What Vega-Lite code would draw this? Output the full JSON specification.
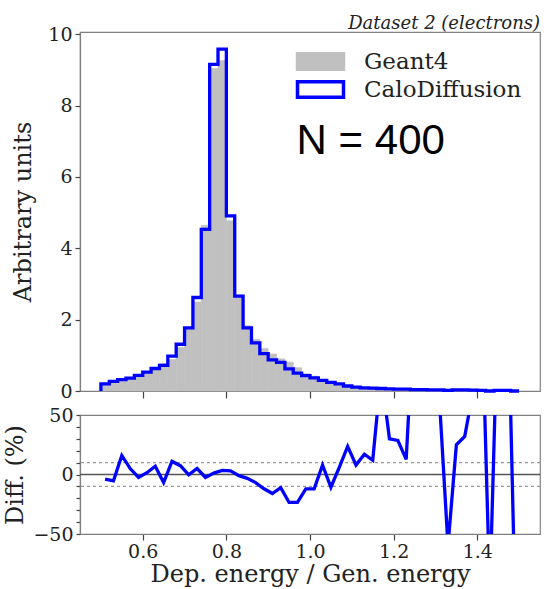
{
  "$schema": "https://vega.github.io/schema/vega-lite/v6.json",
  "background": "white",
  "padding": {"left": 3, "top": 14, "right": 0, "bottom": 0},
  "config": {
    "font": "DejaVu Serif",
    "view": {"stroke": "#808080", "strokeWidth": 1.2},
    "axis": {
      "domainColor": "#808080", "domainWidth": 1.2, "tickColor": "#444", "tickWidth": 1.2,
      "labelColor": "#222", "titleColor": "#222", "labelFont": "DejaVu Serif", "titleFont": "DejaVu Serif",
      "labelFontSize": 19, "titleFontSize": 24, "titleFontWeight": "normal", "grid": false, "tickSize": 5,
      "labelOverlap": false, "labelFlush": false, "labelPadding": 3
    }
  },
  "datasets": {
    "hist": [
      {"lo": 0.50, "hi": 0.52, "c": 0.51, "calo": 0.20, "geant": 0.208, "diff": -3.8},
      {"lo": 0.52, "hi": 0.54, "c": 0.53, "calo": 0.27, "geant": 0.285, "diff": -5.3},
      {"lo": 0.54, "hi": 0.56, "c": 0.55, "calo": 0.32, "geant": 0.276, "diff": 16},
      {"lo": 0.56, "hi": 0.58, "c": 0.57, "calo": 0.36, "geant": 0.343, "diff": 5},
      {"lo": 0.58, "hi": 0.60, "c": 0.59, "calo": 0.44, "geant": 0.451, "diff": -2.4},
      {"lo": 0.60, "hi": 0.62, "c": 0.61, "calo": 0.53, "geant": 0.522, "diff": 1.5},
      {"lo": 0.62, "hi": 0.64, "c": 0.63, "calo": 0.63, "geant": 0.589, "diff": 7},
      {"lo": 0.64, "hi": 0.66, "c": 0.65, "calo": 0.72, "geant": 0.773, "diff": -6.8},
      {"lo": 0.66, "hi": 0.68, "c": 0.67, "calo": 0.98, "geant": 0.883, "diff": 11},
      {"lo": 0.68, "hi": 0.70, "c": 0.69, "calo": 1.31, "geant": 1.22, "diff": 7.4},
      {"lo": 0.70, "hi": 0.72, "c": 0.71, "calo": 1.77, "geant": 1.775, "diff": -0.3},
      {"lo": 0.72, "hi": 0.74, "c": 0.73, "calo": 2.62, "geant": 2.495, "diff": 5},
      {"lo": 0.74, "hi": 0.76, "c": 0.75, "calo": 4.53, "geant": 4.64, "diff": -2.4},
      {"lo": 0.76, "hi": 0.78, "c": 0.77, "calo": 9.15, "geant": 9.04, "diff": 1.2},
      {"lo": 0.78, "hi": 0.80, "c": 0.79, "calo": 9.58, "geant": 9.26, "diff": 3.5},
      {"lo": 0.80, "hi": 0.82, "c": 0.81, "calo": 4.91, "geant": 4.77, "diff": 3},
      {"lo": 0.82, "hi": 0.84, "c": 0.83, "calo": 2.66, "geant": 2.687, "diff": -1},
      {"lo": 0.84, "hi": 0.86, "c": 0.85, "calo": 1.77, "geant": 1.829, "diff": -3.2},
      {"lo": 0.86, "hi": 0.88, "c": 0.87, "calo": 1.35, "geant": 1.449, "diff": -6.8},
      {"lo": 0.88, "hi": 0.90, "c": 0.89, "calo": 1.05, "geant": 1.193, "diff": -12},
      {"lo": 0.90, "hi": 0.92, "c": 0.91, "calo": 0.87, "geant": 1.036, "diff": -16},
      {"lo": 0.92, "hi": 0.94, "c": 0.93, "calo": 0.80, "geant": 0.899, "diff": -11},
      {"lo": 0.94, "hi": 0.96, "c": 0.95, "calo": 0.62, "geant": 0.810, "diff": -23.5},
      {"lo": 0.96, "hi": 0.98, "c": 0.97, "calo": 0.50, "geant": 0.654, "diff": -23.5},
      {"lo": 0.98, "hi": 1.00, "c": 0.99, "calo": 0.43, "geant": 0.489, "diff": -12},
      {"lo": 1.00, "hi": 1.02, "c": 1.01, "calo": 0.37, "geant": 0.420, "diff": -12},
      {"lo": 1.02, "hi": 1.04, "c": 1.03, "calo": 0.30, "geant": 0.278, "diff": 8},
      {"lo": 1.04, "hi": 1.06, "c": 1.05, "calo": 0.24, "geant": 0.269, "diff": -10.7},
      {"lo": 1.06, "hi": 1.08, "c": 1.07, "calo": 0.20, "geant": 0.189, "diff": 6},
      {"lo": 1.08, "hi": 1.10, "c": 1.09, "calo": 0.14, "geant": 0.113, "diff": 23.6},
      {"lo": 1.10, "hi": 1.12, "c": 1.11, "calo": 0.11, "geant": 0.102, "diff": 8},
      {"lo": 1.12, "hi": 1.14, "c": 1.13, "calo": 0.09, "geant": 0.077, "diff": 17},
      {"lo": 1.14, "hi": 1.16, "c": 1.15, "calo": 0.08, "geant": 0.071, "diff": 12},
      {"lo": 1.16, "hi": 1.18, "c": 1.17, "calo": 0.07, "geant": 0.038, "diff": 85},
      {"lo": 1.18, "hi": 1.20, "c": 1.19, "calo": 0.06, "geant": 0.046, "diff": 30},
      {"lo": 1.20, "hi": 1.22, "c": 1.21, "calo": 0.05, "geant": 0.039, "diff": 28.7},
      {"lo": 1.22, "hi": 1.24, "c": 1.23, "calo": 0.05, "geant": 0.044, "diff": 12.7},
      {"lo": 1.24, "hi": 1.26, "c": 1.25, "calo": 0.04, "geant": 0.016, "diff": 145},
      {"lo": 1.26, "hi": 1.28, "c": 1.27, "calo": 0.04, "geant": 0.013, "diff": 200},
      {"lo": 1.28, "hi": 1.30, "c": 1.29, "calo": 0.03, "geant": 0.010, "diff": 200},
      {"lo": 1.30, "hi": 1.32, "c": 1.31, "calo": 0.03, "geant": 0.019, "diff": 60},
      {"lo": 1.32, "hi": 1.34, "c": 1.33, "calo": 0.02, "geant": 0.05, "diff": -60},
      {"lo": 1.34, "hi": 1.36, "c": 1.35, "calo": 0.03, "geant": 0.024, "diff": 25},
      {"lo": 1.36, "hi": 1.38, "c": 1.37, "calo": 0.03, "geant": 0.023, "diff": 32},
      {"lo": 1.38, "hi": 1.40, "c": 1.39, "calo": 0.025, "geant": 0.015, "diff": 70},
      {"lo": 1.40, "hi": 1.42, "c": 1.41, "calo": 0.02, "geant": 0.008, "diff": 150},
      {"lo": 1.42, "hi": 1.44, "c": 1.43, "calo": 0.0, "geant": 0.01, "diff": -100},
      {"lo": 1.44, "hi": 1.46, "c": 1.45, "calo": 0.015, "geant": 0.006, "diff": 150},
      {"lo": 1.46, "hi": 1.48, "c": 1.47, "calo": 0.015, "geant": 0.005, "diff": 200},
      {"lo": 1.48, "hi": 1.50, "c": 1.49, "calo": 0.0, "geant": 0.004, "diff": -100}
    ],
    "outline": [
      {"o": 0, "e": 0.50, "v": 0},
      {"o": 1, "e": 0.50, "v": 0.20},
      {"o": 2, "e": 0.52, "v": 0.27},
      {"o": 3, "e": 0.54, "v": 0.32},
      {"o": 4, "e": 0.56, "v": 0.36},
      {"o": 5, "e": 0.58, "v": 0.44},
      {"o": 6, "e": 0.60, "v": 0.53},
      {"o": 7, "e": 0.62, "v": 0.63},
      {"o": 8, "e": 0.64, "v": 0.72},
      {"o": 9, "e": 0.66, "v": 0.98},
      {"o": 10, "e": 0.68, "v": 1.31},
      {"o": 11, "e": 0.70, "v": 1.77},
      {"o": 12, "e": 0.72, "v": 2.62},
      {"o": 13, "e": 0.74, "v": 4.53},
      {"o": 14, "e": 0.76, "v": 9.15},
      {"o": 15, "e": 0.78, "v": 9.58},
      {"o": 16, "e": 0.80, "v": 4.91},
      {"o": 17, "e": 0.82, "v": 2.66},
      {"o": 18, "e": 0.84, "v": 1.77},
      {"o": 19, "e": 0.86, "v": 1.35},
      {"o": 20, "e": 0.88, "v": 1.05},
      {"o": 21, "e": 0.90, "v": 0.87},
      {"o": 22, "e": 0.92, "v": 0.80},
      {"o": 23, "e": 0.94, "v": 0.62},
      {"o": 24, "e": 0.96, "v": 0.50},
      {"o": 25, "e": 0.98, "v": 0.43},
      {"o": 26, "e": 1.00, "v": 0.37},
      {"o": 27, "e": 1.02, "v": 0.30},
      {"o": 28, "e": 1.04, "v": 0.24},
      {"o": 29, "e": 1.06, "v": 0.20},
      {"o": 30, "e": 1.08, "v": 0.14},
      {"o": 31, "e": 1.10, "v": 0.11},
      {"o": 32, "e": 1.12, "v": 0.09},
      {"o": 33, "e": 1.14, "v": 0.08},
      {"o": 34, "e": 1.16, "v": 0.07},
      {"o": 35, "e": 1.18, "v": 0.06},
      {"o": 36, "e": 1.20, "v": 0.05},
      {"o": 37, "e": 1.22, "v": 0.05},
      {"o": 38, "e": 1.24, "v": 0.04},
      {"o": 39, "e": 1.26, "v": 0.04},
      {"o": 40, "e": 1.28, "v": 0.03},
      {"o": 41, "e": 1.30, "v": 0.03},
      {"o": 42, "e": 1.32, "v": 0.02},
      {"o": 43, "e": 1.34, "v": 0.03},
      {"o": 44, "e": 1.36, "v": 0.03},
      {"o": 45, "e": 1.38, "v": 0.025},
      {"o": 46, "e": 1.40, "v": 0.02},
      {"o": 47, "e": 1.42, "v": 0.0},
      {"o": 48, "e": 1.44, "v": 0.015},
      {"o": 49, "e": 1.46, "v": 0.015},
      {"o": 50, "e": 1.48, "v": 0.0},
      {"o": 51, "e": 1.50, "v": 0}
    ],
    "annot": [{"label": "N = 400", "lx": 0.968, "ly": 6.64}],
    "refs": [{"r": 10, "kind": "dash"}, {"r": -10, "kind": "dash"}],
    "zero": [{"r": 0}]
  },
  "bounds": "flush",
  "spacing": 24,
  "vconcat": [
    {
      "width": 460,
      "height": 359,
      "title": {"text": "Dataset 2 (electrons)", "anchor": "end", "fontStyle": "italic", "fontSize": 18, "font": "DejaVu Serif", "fontWeight": "normal", "color": "#222", "offset": -8},
      "layer": [
        {
          "data": {"name": "hist"},
          "mark": {"type": "rect", "strokeWidth": 0.6},
          "encoding": {
            "x": {"field": "lo", "type": "quantitative", "scale": {"domain": [0.45, 1.55], "nice": false, "zero": false},
                  "axis": {"values": [0.6, 0.8, 1.0, 1.2, 1.4], "labels": false, "title": null, "tickSize": 7}},
            "x2": {"field": "hi"},
            "y": {"field": "geant", "type": "quantitative", "scale": {"domain": [0, 10.06], "nice": false},
                  "axis": {"values": [0, 2, 4, 6, 8, 10], "title": "Arbitrary units", "titlePadding": 12}},
            "y2": {"datum": 0},
            "fill": {
              "datum": "Geant4", "type": "nominal",
              "scale": {"domain": ["Geant4", "CaloDiffusion"], "range": ["#c0c0c0", "#ffffff"]},
              "legend": {
                "title": null, "orient": "top-right", "offset": 18,
                "symbolType": "M-3,-1H3V1H-3Z", "symbolSize": 235,
                "labelFont": "DejaVu Serif", "labelFontSize": 23, "labelColor": "#222",
                "labelOffset": 32, "rowPadding": -3, "symbolStrokeWidth": 3.5, "symbolOpacity": 1
              }
            },
            "stroke": {
              "datum": "Geant4", "type": "nominal",
              "scale": {"domain": ["Geant4", "CaloDiffusion"], "range": ["#c0c0c0", "#0000ff"]},
              "legend": {
                "title": null, "orient": "top-right", "offset": 18,
                "symbolType": "M-3,-1H3V1H-3Z", "symbolSize": 235,
                "labelFont": "DejaVu Serif", "labelFontSize": 23, "labelColor": "#222",
                "labelOffset": 32, "rowPadding": -3, "symbolStrokeWidth": 3.5, "symbolOpacity": 1
              }
            }
          }
        },
        {
          "data": {"name": "outline"},
          "mark": {"type": "line", "interpolate": "step-after", "strokeWidth": 3.3},
          "encoding": {
            "x": {"field": "e", "type": "quantitative"},
            "y": {"field": "v", "type": "quantitative"},
            "order": {"field": "o", "type": "quantitative"},
            "stroke": {"datum": "CaloDiffusion", "type": "nominal"}
          }
        },
        {
          "data": {"name": "annot"},
          "mark": {"type": "text", "font": "Liberation Sans", "fontSize": 42, "align": "left", "baseline": "alphabetic", "color": "black"},
          "encoding": {
            "x": {"field": "lx", "type": "quantitative"},
            "y": {"field": "ly", "type": "quantitative"},
            "text": {"field": "label"}
          }
        }
      ]
    },
    {
      "width": 460,
      "height": 119,
      "layer": [
        {
          "data": {"name": "refs"},
          "mark": {"type": "rule", "color": "#999", "strokeWidth": 1.2, "strokeDash": [3, 3]},
          "encoding": {"y": {"field": "r", "type": "quantitative", "scale": {"domain": [-50, 50], "nice": false},
              "axis": {"values": [-50, -40, -30, -20, -10, 0, 10, 20, 30, 40, 50],
                       "labelExpr": "datum.value == 0 ? '0' : datum.value == 50 ? '50' : datum.value == -50 ? '\u221250' : ''",
                       "tickSize": 4, "title": "Diff. (%)", "titlePadding": 5}}}
        },
        {
          "data": {"name": "zero"},
          "mark": {"type": "rule", "color": "#555", "strokeWidth": 1.5},
          "encoding": {"y": {"field": "r", "type": "quantitative", "scale": {"domain": [-50, 50], "nice": false},
              "axis": {"values": [-50, -40, -30, -20, -10, 0, 10, 20, 30, 40, 50],
                       "labelExpr": "datum.value == 0 ? '0' : datum.value == 50 ? '50' : datum.value == -50 ? '\u221250' : ''",
                       "tickSize": 4, "title": "Diff. (%)", "titlePadding": 5}}}
        },
        {
          "data": {"name": "hist"},
          "mark": {"type": "line", "color": "#0000ff", "strokeWidth": 3.3, "clip": true},
          "encoding": {
            "x": {"field": "c", "type": "quantitative", "scale": {"domain": [0.45, 1.55], "nice": false, "zero": false},
                  "axis": {"values": [0.6, 0.8, 1.0, 1.2, 1.4], "format": ".1f", "title": "Dep. energy / Gen. energy", "tickSize": 6, "titlePadding": 1, "labelPadding": 2}},
            "y": {"field": "diff", "type": "quantitative", "scale": {"domain": [-50, 50], "nice": false},
                  "axis": {"values": [-50, -40, -30, -20, -10, 0, 10, 20, 30, 40, 50],
                           "labelExpr": "datum.value == 0 ? '0' : datum.value == 50 ? '50' : datum.value == -50 ? '\u221250' : ''",
                           "tickSize": 4, "title": "Diff. (%)", "titlePadding": 5}}
          }
        }
      ]
    }
  ]
}
